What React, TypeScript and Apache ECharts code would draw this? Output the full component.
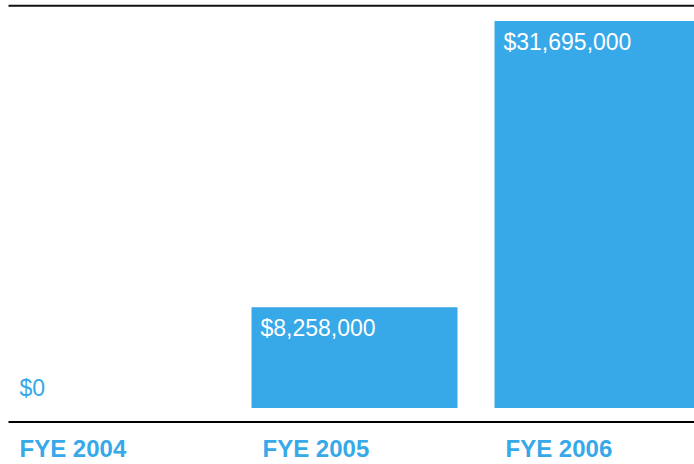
import React, { useEffect, useRef } from "react";
import * as echarts from "echarts";

const categories = ["FYE 2004", "FYE 2005", "FYE 2006"];
const values = [0, 8258000, 31695000];
const valueLabels = ["$0", "$8,258,000", "$31,695,000"];

const BLUE = "#37A8E8";
const FONT = "'Liberation Sans', Arial, Helvetica, sans-serif";
const SHIFT = 10.5;

export default function App() {
  const ref = useRef<HTMLDivElement>(null);
  useEffect(() => {
    if (!ref.current) return;
    const chart = echarts.init(ref.current, null, { renderer: "svg" });
    chart.setOption({
      animation: false,
      backgroundColor: "#ffffff",
      grid: { left: 0, right: 0, top: 21, bottom: 56, containLabel: false },
      xAxis: {
        type: "category",
        data: categories,
        axisLine: { show: false },
        axisTick: { show: false },
        axisLabel: {
          margin: 28,
          align: "center",
          formatter: (v: string) => `{a|${v}}`,
          rich: {
            a: {
              width: 184,
              align: "left",
              fontFamily: FONT,
              fontSize: 24,
              fontWeight: "bold",
              color: BLUE,
            },
          },
        },
      },
      yAxis: {
        type: "value",
        min: 0,
        max: 31695000,
        show: false,
        splitLine: { show: false },
      },
      series: [
        {
          type: "bar",
          barWidth: 206,
          itemStyle: { color: BLUE },
          data: values.map((v, i) => ({
            value: v,
            label:
              v === 0
                ? {
                    show: true,
                    position: [11, -32],
                    color: BLUE,
                    formatter: valueLabels[i],
                  }
                : { show: true, formatter: valueLabels[i] },
          })),
          label: {
            show: true,
            position: "insideTopLeft",
            distance: 9,
            color: "#ffffff",
            fontFamily: FONT,
            fontSize: 23,
          },
        },
      ],
      graphic: [
        {
          type: "line",
          shape: { x1: 8 + SHIFT, y1: 5.8, x2: 729, y2: 5.8 },
          style: { stroke: "#111111", lineWidth: 2 },
        },
        {
          type: "line",
          shape: { x1: 8 + SHIFT, y1: 422, x2: 729, y2: 422 },
          style: { stroke: "#000000", lineWidth: 2 },
        },
      ],
    });
    return () => chart.dispose();
  }, []);
  return (
    <div
      style={{
        position: "absolute",
        left: 0,
        top: 0,
        width: 694,
        height: 464,
        overflow: "hidden",
        background: "#ffffff",
      }}
    >
      <div
        ref={ref}
        style={{ position: "absolute", left: -SHIFT, top: 0, width: 729, height: 464 }}
      />
    </div>
  );
}
